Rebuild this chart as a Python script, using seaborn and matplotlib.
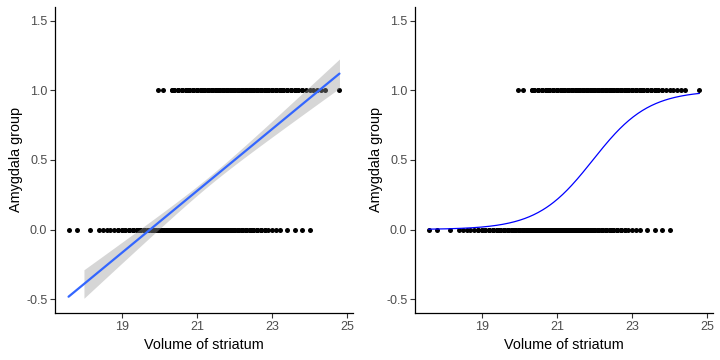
import numpy as np
import pandas as pd
import matplotlib
matplotlib.use("Agg")
import matplotlib.pyplot as plt
import seaborn as sns

# striatum volume values and how many subjects share each value, per amygdala group
striatum_g0 = [17.59, 17.82, 18.15, 18.4, 18.5, 18.6, 18.7, 18.8, 18.9, 19.0,
               19.1, 19.2, 19.3, 19.4, 19.5, 19.6, 19.7, 19.8, 19.9, 20.0,
               20.1, 20.2, 20.3, 20.4, 20.5, 20.6, 20.7, 20.8, 20.9, 21.0,
               21.1, 21.2, 21.3, 21.4, 21.5, 21.6, 21.7, 21.8, 21.9, 22.0,
               22.1, 22.2, 22.3, 22.4, 22.5, 22.6, 22.7, 22.8, 22.9, 23.0,
               23.1, 23.2, 23.4, 23.6, 23.8, 24.0]
count_g0 = [1, 1, 1, 1, 1, 1, 1, 1, 2, 2,
            2, 3, 4, 4, 5, 6, 7, 8, 9, 10,
            12, 13, 14, 15, 16, 17, 18, 18, 19, 19,
            19, 19, 18, 17, 16, 15, 14, 13, 12, 10,
            9, 8, 6, 5, 4, 4, 3, 2, 1, 1,
            1, 1, 1, 1, 1, 1]

striatum_g1 = [19.97, 20.1, 20.35, 20.4, 20.5, 20.6, 20.7, 20.8, 20.9, 21.0,
               21.1, 21.2, 21.3, 21.4, 21.5, 21.6, 21.7, 21.8, 21.9, 22.0,
               22.1, 22.2, 22.3, 22.4, 22.5, 22.6, 22.7, 22.8, 22.9, 23.0,
               23.1, 23.2, 23.3, 23.4, 23.5, 23.6, 23.7, 23.8, 23.9, 24.0,
               24.1, 24.2, 24.3, 24.4, 24.79]
count_g1 = [1, 1, 2, 2, 3, 3, 4, 4, 5, 5,
            6, 7, 8, 9, 9, 10, 10, 10, 10, 10,
            10, 10, 11, 10, 9, 9, 8, 7, 5, 6,
            5, 5, 4, 3, 3, 3, 2, 2, 1, 1,
            1, 1, 1, 1, 1]

y_ticks = [-0.5, 0.0, 0.5, 1.0, 1.5]
x_ticks = [19, 21, 23, 25]
y_limits = (-0.5, 1.5)

df = pd.DataFrame({
    "striatum": np.concatenate([np.repeat(striatum_g0, count_g0),
                                np.repeat(striatum_g1, count_g1)]),
    "amygdala": np.concatenate([np.zeros(sum(count_g0)), np.ones(sum(count_g1))]),
})
xv = df["striatum"].values
yv = df["amygdala"].values
n = len(df)
grid = np.linspace(xv.min(), xv.max(), 300)

# linear fit confidence band (t-based, like geom_smooth)
b1, b0 = np.polyfit(xv, yv, 1)
resid = yv - (b0 + b1 * xv)
s = np.sqrt(np.sum(resid ** 2) / (n - 2))
sxx = np.sum((xv - xv.mean()) ** 2)
fit = b0 + b1 * grid
se = s * np.sqrt(1 / n + (grid - xv.mean()) ** 2 / sxx)
lo, hi = fit - 1.96 * se, fit + 1.96 * se
inside = (lo >= y_limits[0]) & (hi <= y_limits[1])

# logistic regression (IRLS) for the right panel
X = np.column_stack([np.ones(n), xv])
beta = np.zeros(2)
for _ in range(30):
    p = 1 / (1 + np.exp(-X @ beta))
    w = p * (1 - p)
    beta += np.linalg.solve(X.T @ (w[:, None] * X), X.T @ (yv - p))
curve = pd.DataFrame({"striatum": grid,
                      "prob": 1 / (1 + np.exp(-(beta[0] + beta[1] * grid)))})

sns.set_style("white")
plt.rcParams["font.family"] = ["Liberation Sans", "DejaVu Sans"]

fig = plt.figure(figsize=(7.2, 3.6), dpi=100)
ax1 = fig.add_axes([55 / 720, 47 / 360, 298 / 720, 306 / 360])
ax2 = fig.add_axes([415 / 720, 47 / 360, 298 / 720, 306 / 360])

# left: linear fit
sns.scatterplot(data=df, x="striatum", y="amygdala", color="black", s=13,
                linewidth=0, ax=ax1)
ax1.fill_between(grid, lo, hi, where=inside, color="#999999", alpha=0.4,
                 linewidth=0)
sns.regplot(data=df, x="striatum", y="amygdala", scatter=False, ci=None, ax=ax1,
            color="#3366FF", line_kws={"linewidth": 1.6})

# right: logistic fit
sns.scatterplot(data=df, x="striatum", y="amygdala", color="black", s=13,
                linewidth=0, ax=ax2)
sns.lineplot(data=curve, x="striatum", y="prob", color="#0000FF",
             linewidth=0.9, ax=ax2)

xr = xv.max() - xv.min()
for ax in (ax1, ax2):
    ax.set_xlim(xv.min() - 0.05 * xr, xv.max() + 0.05 * xr)
    ax.set_ylim(-0.6, 1.6)
    ax.set_xticks(x_ticks)
    ax.set_yticks(y_ticks)
    ax.set_yticklabels([f"{v:.1f}" for v in y_ticks])
    ax.tick_params(axis="both", direction="out", length=3.5, width=0.8,
                   color="#333333", labelcolor="#4D4D4D", labelsize=9, pad=2,
                   bottom=True, left=True)
    for sp in ("top", "right"):
        ax.spines[sp].set_visible(False)
    for sp in ("left", "bottom"):
        ax.spines[sp].set_color("black")
        ax.spines[sp].set_linewidth(0.9)
    ax.set_xlabel("Volume of striatum", fontsize=10.4, color="black", labelpad=4)
    ax.set_ylabel("Amygdala group", fontsize=10.4, color="black", labelpad=2)

fig.savefig("out.png", dpi=100)
